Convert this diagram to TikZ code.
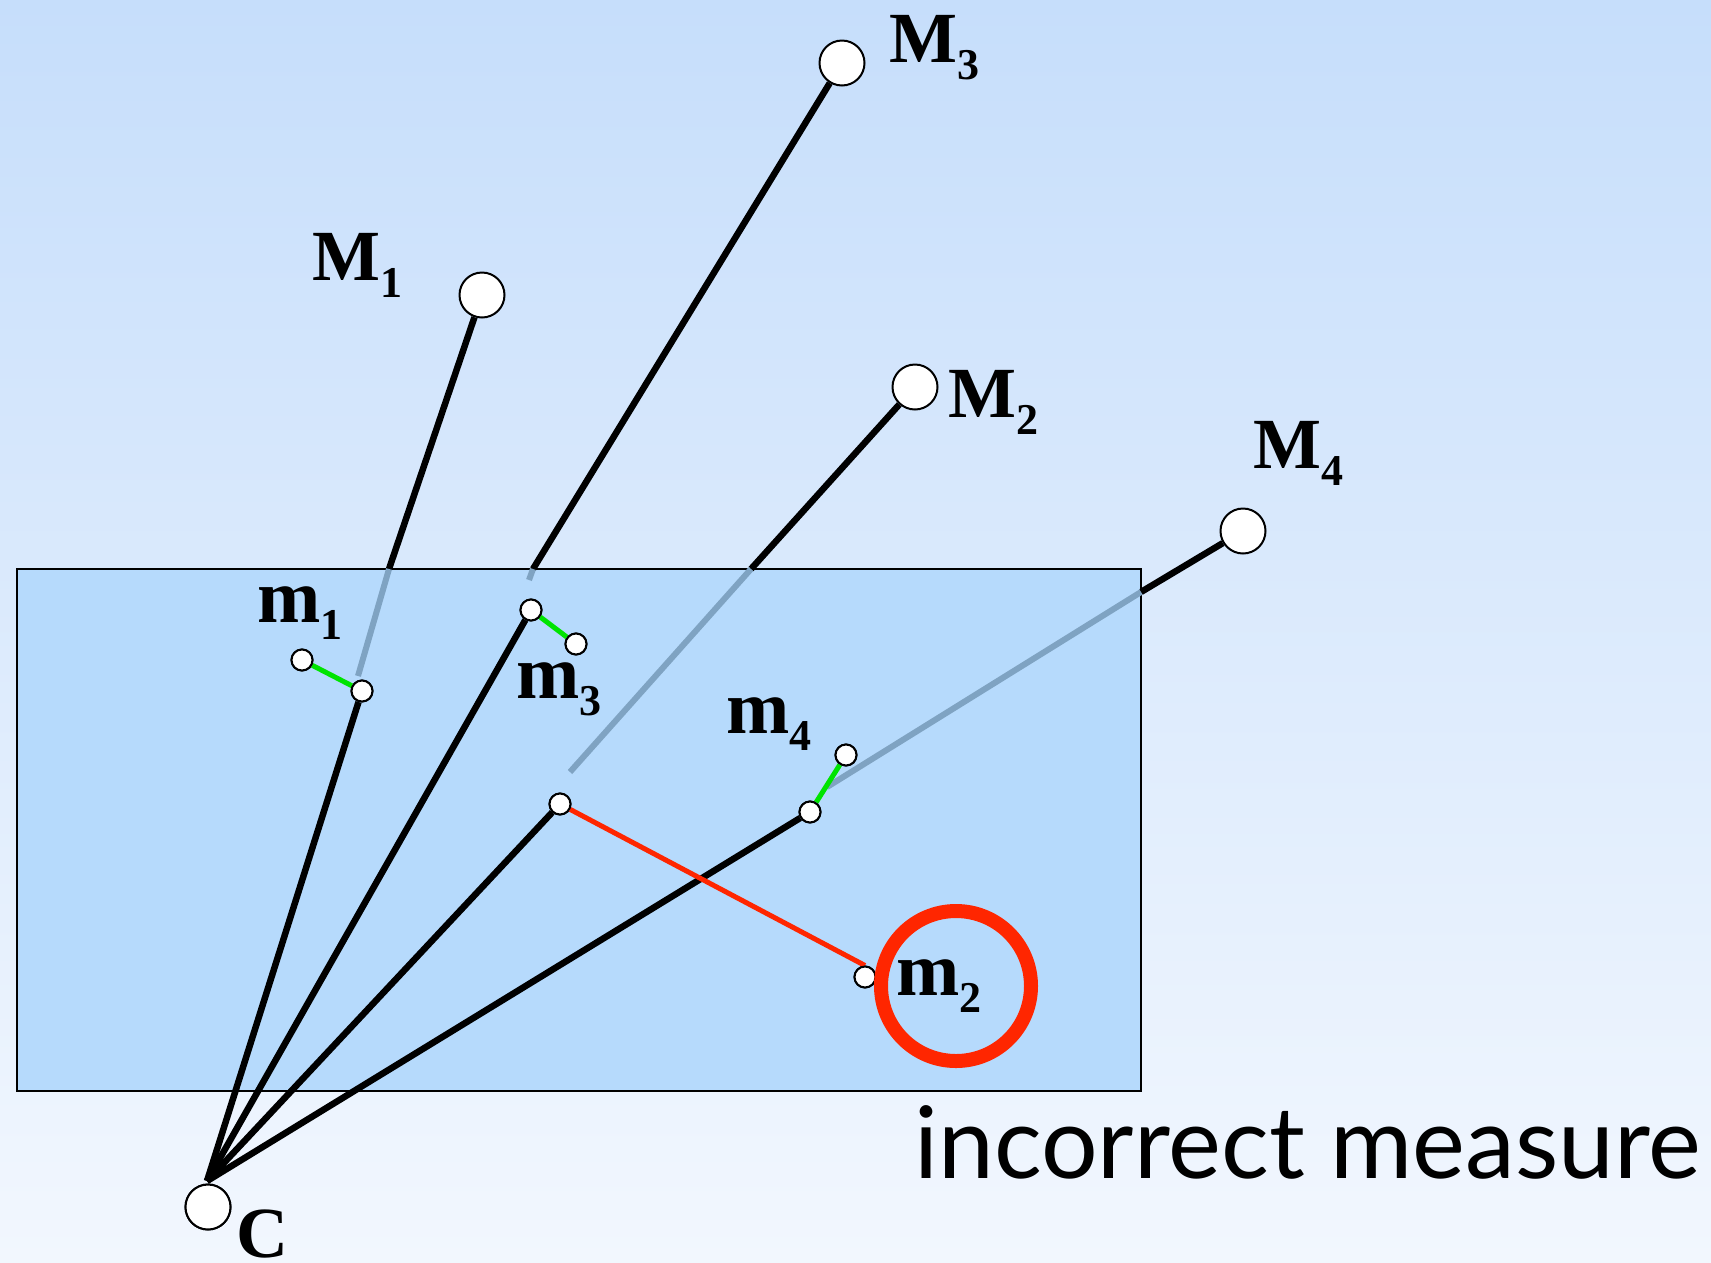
\documentclass[tikz,border=0pt]{standalone}
\usepackage{fontspec}
\setmainfont{Liberation Serif}
\newfontfamily\notefont{Lato}
\definecolor{bgtop}{RGB}{198,222,251}
\definecolor{bgbot}{RGB}{242,247,254}
\definecolor{planefill}{RGB}{182,218,252}
\definecolor{hiddencol}{RGB}{127,163,194}
\definecolor{goodcol}{RGB}{0,228,0}
\definecolor{badcol}{RGB}{255,38,0}
\newcommand\sublab[2]{#1\raisebox{-17pt}{\fontsize{44}{44}\selectfont #2}}
\begin{document}
\begin{tikzpicture}[x=1pt,y=-1pt,
  bigpt/.style={circle,draw=black,fill=white,line width=2pt,minimum size=45pt,inner sep=0pt},
  smallpt/.style={circle,draw=black,fill=white,line width=2pt,minimum size=21pt,inner sep=0pt},
  ray/.style={line width=6.5pt,draw=black},
  hiddenray/.style={line width=6pt,draw=hiddencol},
  goodline/.style={line width=5pt,draw=goodcol},
  badline/.style={line width=5pt,draw=badcol},
  lab/.style={anchor=base west,inner sep=0pt,font=\fontsize{72}{80}\selectfont\bfseries},
  mlab/.style={anchor=base west,inner sep=0pt,font=\fontsize{76}{84}\selectfont\bfseries}]
\useasboundingbox (0,0) rectangle (1711,1262);
\clip (0,0) rectangle (1711,1262);
\shade[top color=bgtop,bottom color=bgbot] (0,0) rectangle (1711,1262);
% image plane
\draw[fill=planefill,draw=black,line width=2pt] (17,569) rectangle (1141,1091);
% coordinates
\coordinate (apex) at (207,1181);
\coordinate (t1) at (389,569);
\coordinate (t3) at (533,569);
\coordinate (t2) at (751,569);
\coordinate (t4) at (1141,592);
\coordinate (h1) at (358,676);
\coordinate (h3) at (529,580);
\coordinate (h2) at (570,772);
\coordinate (h4) at (827,787);
% 3D points and camera
\node[bigpt] (C) at (208,1207) {};
\node[bigpt] (M1) at (482,295) {};
\node[bigpt] (M3) at (842,63) {};
\node[bigpt] (M2) at (915,387) {};
\node[bigpt] (M4) at (1243,531) {};
% projections and measures
\node[smallpt] (m1p) at (362,691) {};
\node[smallpt] (m3p) at (531,610) {};
\node[smallpt] (m2p) at (560,804) {};
\node[smallpt] (m4p) at (810,812) {};
\node[smallpt] (m1) at (302,660) {};
\node[smallpt] (m3) at (576,644) {};
\node[smallpt] (m2) at (865,977) {};
\node[smallpt] (m4) at (846,755) {};
% rays above the plane
\draw[ray] (t1) -- (M1);
\draw[ray] (t3) -- (M3);
\draw[ray] (t2) -- (M2);
\draw[ray] (t4) -- (M4);
% rays seen through the plane
\draw[hiddenray] (t1) -- (h1);
\draw[hiddenray] (t3) -- (h3);
\draw[hiddenray] (t2) -- (h2);
\draw[hiddenray] (t4) -- (h4);
% rays from camera to projections
\draw[ray] (apex) -- (m1p);
\draw[ray] (apex) -- (m3p);
\draw[ray] (apex) -- (m2p);
\draw[ray] (apex) -- (m4p);
% errors
\draw[goodline] (m1) -- (m1p);
\draw[goodline] (m3p) -- (m3);
\draw[goodline] (m4p) -- (m4);
\draw[badline] (m2p) -- (m2.north);
% redraw points on top
\node[smallpt] at (m1p) {};
\node[smallpt] at (m3p) {};
\node[smallpt] at (m2p) {};
\node[smallpt] at (m4p) {};
\node[smallpt] at (m1) {};
\node[smallpt] at (m3) {};
\node[smallpt] at (m2) {};
\node[smallpt] at (m4) {};
\node[bigpt] at (C) {};
% highlight circle
\node[circle,draw=badcol,line width=14pt,minimum size=150pt,inner sep=0pt] (ring) at (956,986) {};
% labels
\node[lab] (LM1) at (312,280) {\sublab{M}{1}};
\node[lab] (LM3) at (889,62) {\sublab{M}{3}};
\node[lab] (LM2) at (948,417) {\sublab{M}{2}};
\node[lab] (LM4) at (1253,468) {\sublab{M}{4}};
\node[mlab] (Lm1) at (257,622) {\sublab{m}{1}};
\node[mlab] (Lm3) at (516,698) {\sublab{m}{3}};
\node[mlab] (Lm4) at (726,733) {\sublab{m}{4}};
\node[mlab] (Lm2) at (896,995) {\sublab{m}{2}};
\node[lab] (LC) at (236,1257) {C};
\node[anchor=base west,inner sep=0pt,font=\notefont\fontsize{100}{110}\selectfont] (note) at (914,1178) {incorrect measure};
\end{tikzpicture}
\end{document}
